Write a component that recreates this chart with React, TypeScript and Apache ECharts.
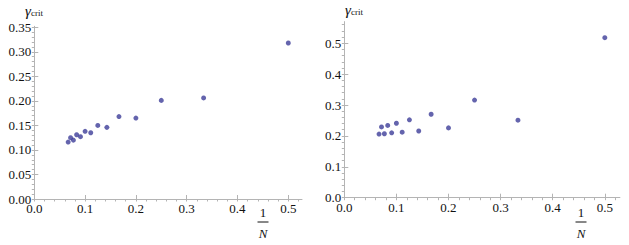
import React, { useEffect, useRef } from "react";
import * as echarts from "echarts";

// N values (x is plotted as 1/N)
const nValues = [2, 3, 4, 5, 6, 7, 8, 9, 10, 11, 12, 13, 14, 15];
// gamma_crit, left panel
const gammaLeft = [0.318, 0.206, 0.201, 0.165, 0.168, 0.146, 0.150, 0.135, 0.138, 0.127, 0.131, 0.120, 0.125, 0.116];
// gamma_crit, right panel
const gammaRight = [0.518, 0.251, 0.316, 0.226, 0.270, 0.216, 0.252, 0.212, 0.241, 0.210, 0.234, 0.207, 0.229, 0.206];

const xMajor = [0, 0.1, 0.2, 0.3, 0.4, 0.5];
const yMajorLeft = [0, 0.05, 0.1, 0.15, 0.2, 0.25, 0.3, 0.35];
const yMajorRight = [0, 0.1, 0.2, 0.3, 0.4, 0.5];

const range = (start: number, end: number, step: number) => {
  const out: number[] = [];
  for (let v = start; v <= end + 1e-9; v += step) out.push(Math.round(v * 1000) / 1000);
  return out;
};

const FONT = "'Liberation Serif', 'DejaVu Serif', serif";
const AXIS_COLOR = "#b4b4b4";
const LABEL_COLOR = "#111";
const POINT_COLOR = "#3d3d99";

export default function App() {
  const ref = useRef<HTMLDivElement>(null);
  useEffect(() => {
    if (!ref.current) return;
    const chart = echarts.init(ref.current, undefined, { renderer: "svg" });

    const grids = [
      { left: 34.3, top: 26.3, width: 267.7, height: 172.7 },
      { left: 344.3, top: 21.6, width: 275.6, height: 176.1 },
    ];
    const xMax = [0.527, 0.529];
    const yMax = [0.352, 0.57];
    const yMajor = [yMajorLeft, yMajorRight];
    const yMinorStep = [0.01, 0.02];
    const yFmt = [(v: number) => v.toFixed(2), (v: number) => v.toFixed(1)];

    const xAxis: any[] = [];
    const yAxis: any[] = [];
    [0, 1].forEach((g) => {
      xAxis.push({
        type: "value", gridIndex: g, min: 0, max: xMax[g],
        axisLine: { show: true, onZero: false, lineStyle: { color: AXIS_COLOR, width: 1 } },
        axisTick: { show: true, inside: true, length: 4, customValues: xMajor, lineStyle: { color: AXIS_COLOR } },
        axisLabel: {
          show: true, customValues: xMajor, margin: 3,
          formatter: (v: number) => v.toFixed(1),
          fontFamily: FONT, fontSize: 13, color: LABEL_COLOR,
        },
        splitLine: { show: false },
      });
      xAxis.push({
        type: "value", gridIndex: g, min: 0, max: xMax[g],
        axisLine: { show: false },
        axisTick: { show: true, inside: true, length: 2.5, customValues: range(0, xMax[g], 0.02), lineStyle: { color: AXIS_COLOR } },
        axisLabel: { show: false },
        splitLine: { show: false },
      });
      yAxis.push({
        type: "value", gridIndex: g, min: 0, max: yMax[g],
        axisLine: { show: true, onZero: false, lineStyle: { color: AXIS_COLOR, width: 1 } },
        axisTick: { show: true, inside: true, length: 4, customValues: yMajor[g], lineStyle: { color: AXIS_COLOR } },
        axisLabel: {
          show: true, customValues: yMajor[g], margin: 3,
          formatter: yFmt[g],
          fontFamily: FONT, fontSize: 13, color: LABEL_COLOR,
        },
        splitLine: { show: false },
      });
      yAxis.push({
        type: "value", gridIndex: g, min: 0, max: yMax[g],
        axisLine: { show: false },
        axisTick: { show: true, inside: true, length: 2.5, customValues: range(0, yMax[g], yMinorStep[g]), lineStyle: { color: AXIS_COLOR } },
        axisLabel: { show: false },
        splitLine: { show: false },
      });
    });

    const yLabel = (x: number, y: number) => ({
      type: "text", left: x, top: y,
      style: {
        text: "{g|γ}{s|crit}",
        rich: {
          g: { fontFamily: FONT, fontSize: 15, fontStyle: "italic", fill: LABEL_COLOR },
          s: { fontFamily: FONT, fontSize: 9, fill: LABEL_COLOR, padding: [5, 0, 0, 0] },
        },
      },
    });
    const frac = (cx: number) => [
      { type: "text", x: cx, y: 212.5, style: { text: "1", fontFamily: FONT, fontSize: 13, fill: LABEL_COLOR, align: "center", verticalAlign: "middle" } },
      { type: "line", shape: { x1: cx - 5.5, y1: 222, x2: cx + 5.5, y2: 222 }, style: { stroke: LABEL_COLOR, lineWidth: 1 } },
      { type: "text", x: cx, y: 233, style: { text: "N", fontFamily: FONT, fontSize: 13, fontStyle: "italic", fill: LABEL_COLOR, align: "center", verticalAlign: "middle" } },
    ];

    chart.setOption({
      animation: false,
      grid: grids,
      xAxis,
      yAxis,
      series: [
        {
          type: "scatter", xAxisIndex: 0, yAxisIndex: 0,
          data: nValues.map((n, i) => [1 / n, gammaLeft[i]]),
          symbolSize: 5, itemStyle: { color: POINT_COLOR },
        },
        {
          type: "scatter", xAxisIndex: 2, yAxisIndex: 2,
          data: nValues.map((n, i) => [1 / n, gammaRight[i]]),
          symbolSize: 5, itemStyle: { color: POINT_COLOR },
        },
      ],
      graphic: [yLabel(25, 3), yLabel(345, 2), ...frac(263), ...frac(581)],
    });
    return () => chart.dispose();
  }, []);
  return <div ref={ref} style={{ position: "fixed", left: 0, top: 0, width: 629, height: 245, background: "#fff" }} />;
}
